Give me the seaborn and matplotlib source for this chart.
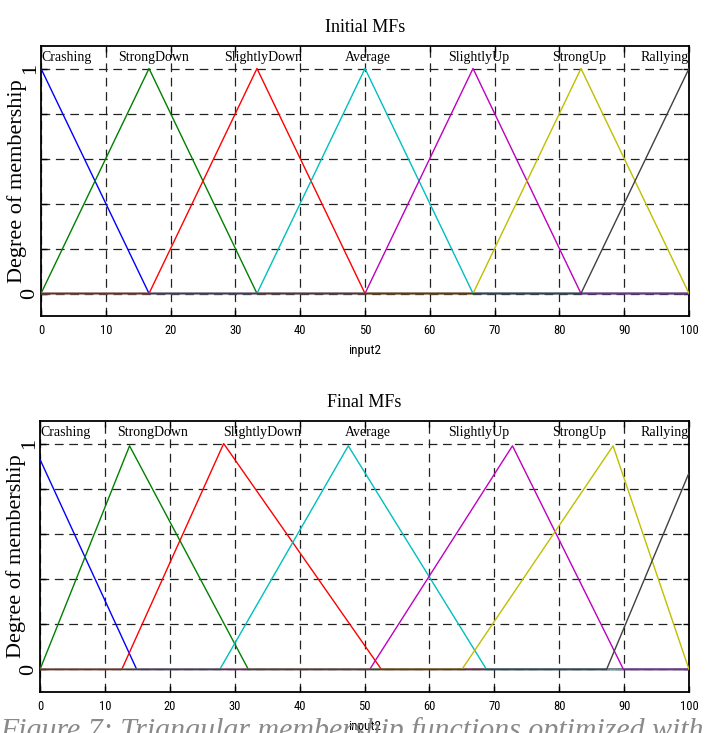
import numpy as np
import pandas as pd
import seaborn as sns
import matplotlib
matplotlib.use("Agg")
import matplotlib.pyplot as plt

# ---------------- data ----------------
mf_names = ["Crashing", "StrongDown", "SlightlyDown", "Average",
            "SlightlyUp", "StrongUp", "Rallying"]
mf_colors = ["#0000ff", "#008000", "#ff0000", "#00bfbf",
             "#bf00bf", "#bfbf00", "#404040"]
label_x = [0, 17.3, 34.3, 50.5, 67.6, 83.0, 100]
label_ha = ["left", "center", "center", "center", "center", "center", "right"]

# Initial MFs (breakpoints x, membership y)
init_x = {
    "Crashing":     [0, 16.67, 100],
    "StrongDown":   [0, 16.67, 33.33, 100],
    "SlightlyDown": [0, 16.67, 33.33, 50, 100],
    "Average":      [0, 33.33, 50, 66.67, 100],
    "SlightlyUp":   [0, 50, 66.67, 83.33, 100],
    "StrongUp":     [0, 66.67, 83.33, 100],
    "Rallying":     [0, 83.33, 100],
}
init_y = {
    "Crashing":     [1, 0, 0],
    "StrongDown":   [0, 1, 0, 0],
    "SlightlyDown": [0, 0, 1, 0, 0],
    "Average":      [0, 0, 1, 0, 0],
    "SlightlyUp":   [0, 0, 1, 0, 0],
    "StrongUp":     [0, 0, 1, 0],
    "Rallying":     [0, 0, 1],
}

# Final (optimised) MFs
final_x = {
    "Crashing":     [0, 14.9, 100],
    "StrongDown":   [0, 13.8, 32.1, 100],
    "SlightlyDown": [0, 12.6, 28.3, 52.6, 100],
    "Average":      [0, 27.7, 47.5, 68.8, 100],
    "SlightlyUp":   [0, 50.8, 72.8, 89.9, 100],
    "StrongUp":     [0, 65.0, 88.3, 100],
    "Rallying":     [0, 87.3, 100],
}
final_y = {
    "Crashing":     [0.93, 0, 0],
    "StrongDown":   [0, 0.99, 0, 0],
    "SlightlyDown": [0, 0, 1.0, 0, 0],
    "Average":      [0, 0, 0.99, 0, 0],
    "SlightlyUp":   [0, 0, 0.99, 0, 0],
    "StrongUp":     [0, 0, 0.99, 0],
    "Rallying":     [0, 0, 0.87],
}

x_ticks = list(range(0, 101, 10))
y_ticks = [0, 0.2, 0.4, 0.6, 0.8, 1.0]
y_ticklabels = ["0", "", "", "", "", "1"]
titles = ["Initial MFs", "Final MFs"]
x_label = "input2"
y_label = "Degree of membership"
caption = "Figure 7: Triangular membership functions optimized with"


def to_long(xs, ys):
    rows = []
    for n in mf_names:
        for i, (xv, yv) in enumerate(zip(xs[n], ys[n])):
            rows.append({"mf": n, "order": i, "x": xv, "mu": yv})
    return pd.DataFrame(rows)


# ---------------- style ----------------
sns.set_theme(style="white")
plt.rcParams["font.family"] = ["Liberation Serif", "DejaVu Serif"]
plt.rcParams["axes.edgecolor"] = "black"
plt.rcParams["axes.linewidth"] = 1.2

serif = ["Liberation Serif", "DejaVu Serif"]
narrow = ["Roboto Condensed", "Liberation Sans", "DejaVu Sans"]

fig = plt.figure(figsize=(7.06, 7.33), dpi=100)
ax_top = fig.add_axes([41 / 706, 1 - 316 / 733, 648 / 706, 270 / 733])
ax_bot = fig.add_axes([40 / 706, 1 - 692 / 733, 649 / 706, 271 / 733])

for ax, xs, ys, title in [(ax_top, init_x, init_y, titles[0]),
                          (ax_bot, final_x, final_y, titles[1])]:
    df = to_long(xs, ys)
    sns.lineplot(data=df, x="x", y="mu", hue="mf", hue_order=mf_names,
                 palette=dict(zip(mf_names, mf_colors)), sort=False,
                 estimator=None, units="mf", legend=False, linewidth=1.0,
                 ax=ax, zorder=3)
    ax.set_xlim(0, 100)
    ax.set_ylim(-0.1, 1.1)
    ax.set_xticks(x_ticks)
    ax.set_xticklabels([str(t) for t in x_ticks], family=narrow, fontsize=9)
    ax.set_yticks(y_ticks)
    ax.set_yticklabels(y_ticklabels, rotation=90, va="center",
                       family=serif, fontsize=16)
    ax.tick_params(axis="both", direction="in", length=4, width=1,
                   color="black", top=True, right=True, bottom=True, left=True)
    ax.tick_params(axis="x", pad=6, labelcolor="black")
    ax.tick_params(axis="y", pad=1, labelcolor="black")
    ax.grid(True, linestyle=(0, (7, 4.5)), color="#222222", linewidth=0.9,
            zorder=1)
    ax.set_axisbelow(True)
    ax.set_title(title, family=serif, fontsize=13, color="black", pad=10)
    ax.set_xlabel(x_label, family=narrow, fontsize=9.5, color="black",
                  labelpad=5)
    ax.set_ylabel(y_label, family=serif, fontsize=16, color="black")
    ax.yaxis.set_label_coords(-0.021, 0.5)
    for spine in ax.spines.values():
        spine.set_visible(True)
        spine.set_color("black")
        spine.set_linewidth(1.3)
    for nm, lx, ha in zip(mf_names, label_x, label_ha):
        ax.text(lx, 1.05, nm, ha=ha, va="center", family=serif,
                fontsize=10, color="black", zorder=4)

fig.text(0.0, 1 - 717 / 733, caption, ha="left", va="top", family=serif,
         style="italic", fontsize=21.5, color="#8a8a8a")

fig.savefig("out.png", dpi=100)
